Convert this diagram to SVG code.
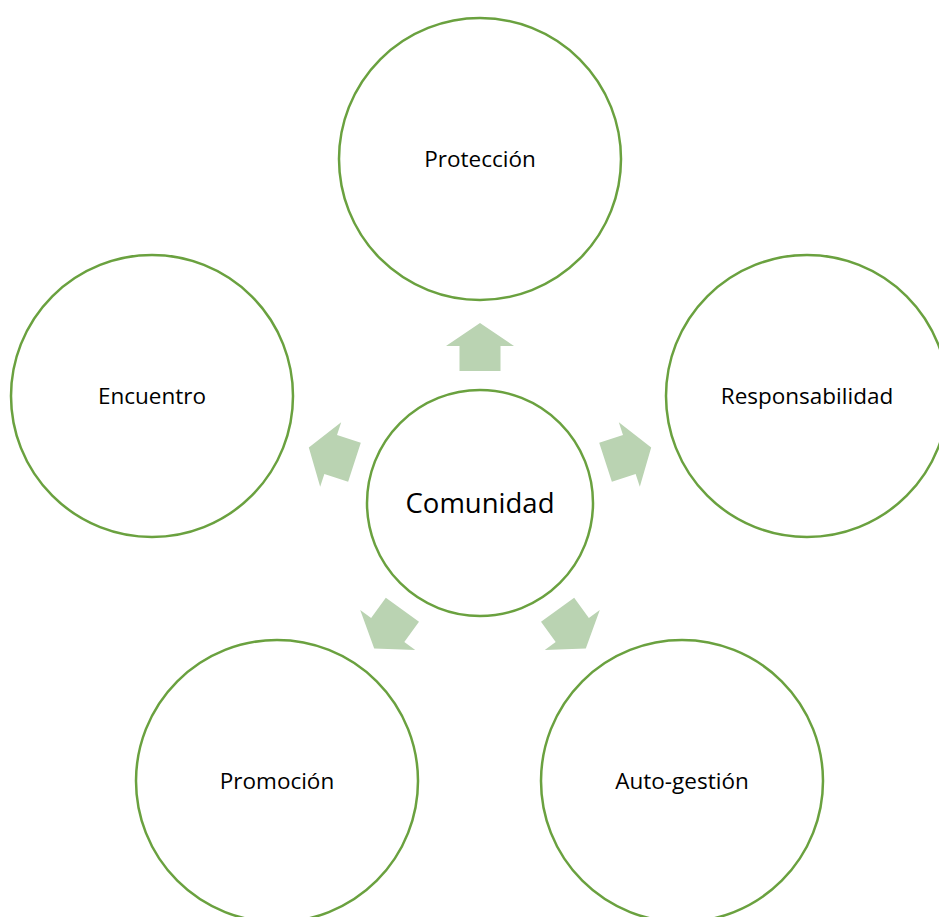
<svg xmlns="http://www.w3.org/2000/svg" width="939" height="917" viewBox="0 0 939 917">
<style>
.c{fill:#fff;stroke:#6aa13f;stroke-width:2.5}
.t{font-family:"Open Sans","Noto Sans",sans-serif;font-size:22.5px;fill:#000;text-anchor:middle}
.big{font-size:27.5px}
.a{fill:#bad3b2}
</style>
<defs>
<polygon id="arr" points="480,323 514,346 500.5,346 500.5,371 459.5,371 459.5,346 446,346"/>
</defs>
<rect width="939" height="917" fill="#fff"/>
<g id="connectors">
<use href="#arr" class="a"/>
<use href="#arr" class="a" transform="rotate(72 480 503)"/>
<use href="#arr" class="a" transform="rotate(144 480 503)"/>
<use href="#arr" class="a" transform="rotate(216 480 503)"/>
<use href="#arr" class="a" transform="rotate(288 480 503)"/>
</g>
<g id="comunidad"><circle class="c" cx="480" cy="503" r="113"/><text class="t big" x="480" y="513">Comunidad</text></g>
<g id="proteccion"><circle class="c" cx="480" cy="159" r="141"/><text class="t" x="480" y="167">Protección</text></g>
<g id="responsabilidad"><circle class="c" cx="807" cy="396" r="141"/><text class="t" x="807" y="404">Responsabilidad</text></g>
<g id="autogestion"><circle class="c" cx="682" cy="781" r="141"/><text class="t" x="682" y="789">Auto-gestión</text></g>
<g id="promocion"><circle class="c" cx="277" cy="781" r="141"/><text class="t" x="277" y="789">Promoción</text></g>
<g id="encuentro"><circle class="c" cx="152" cy="396" r="141"/><text class="t" x="152" y="404">Encuentro</text></g>
</svg>
